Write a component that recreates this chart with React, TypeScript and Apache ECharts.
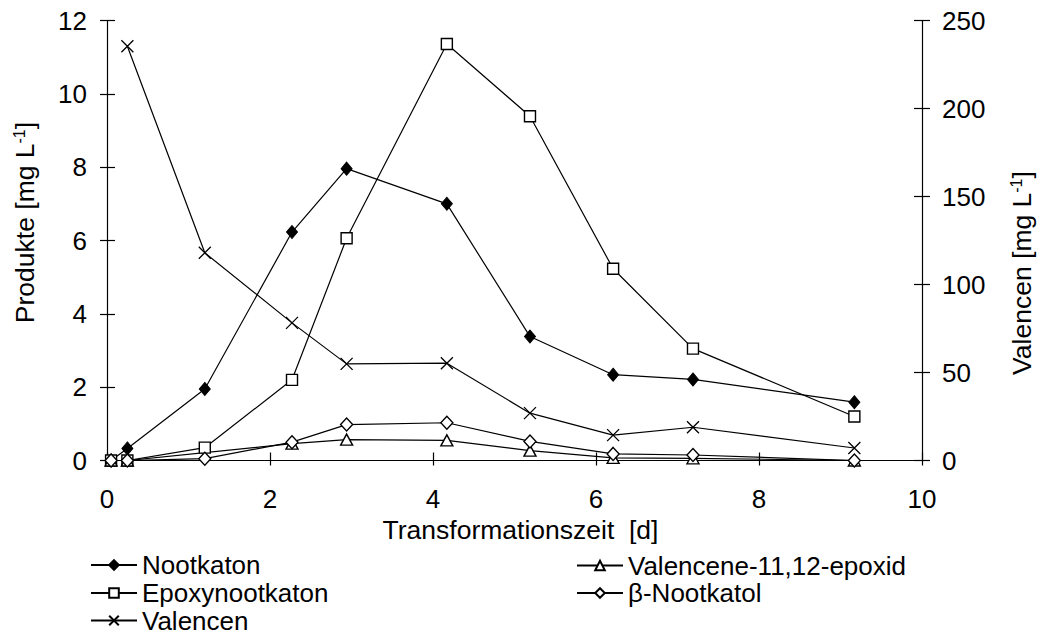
import React, { useEffect, useRef } from "react";
import * as echarts from "echarts";

const times = [0.05, 0.25, 1.2, 2.27, 2.94, 4.17, 5.19, 6.21, 7.19, 9.17];
const nootkaton = [0, 0.33, 1.95, 6.23, 7.96, 7.0, 3.38, 2.34, 2.21, 1.59];
const epoxynootkaton = [0, 0, 0.35, 2.2, 6.06, 11.36, 9.39, 5.23, 3.05, 1.2];
const valencen = [null, 235.4, 118, 78.2, 54.9, 55.3, 26.9, 14.4, 18.9, 7.1];
const valenceneEpoxid = [0, 0, null, 0.46, 0.57, 0.55, 0.27, 0.07, 0.06, 0];
const nootkatol = [0, 0, 0.05, 0.5, 0.98, 1.03, 0.52, 0.18, 0.15, 0];

const leftTicks = { min: 0, max: 12, interval: 2 };
const rightTicks = { min: 0, max: 250, interval: 50 };
const xTicks = { min: 0, max: 10, interval: 2 };

const FONT = "'Liberation Sans', Arial, sans-serif";

function pairs(vals: (number | null)[]) {
  return times.map((t, i) => [t, vals[i]]).filter((p) => p[1] !== null);
}

export default function App() {
  const ref = useRef<HTMLDivElement>(null);
  useEffect(() => {
    if (!ref.current) return;
    const chart = echarts.init(ref.current, null, { renderer: "svg" });
    const line = { color: "#000", width: 1.2 };
    const hollow = { color: "#fff", borderColor: "#000", borderWidth: 1.4 };
    const axisLine = { show: true, onZero: false, lineStyle: { color: "#000", width: 1.2 } };
    const lbl = { color: "#000", fontSize: 26, fontFamily: FONT };
    const nameStyle = { color: "#000", fontSize: 26.5, fontFamily: FONT };
    const legendText = { color: "#000", fontSize: 26, fontFamily: FONT, lineHeight: 20 };
    const legendItem = (name: string, left: number, center: number) => ({
      orient: "vertical",
      left,
      top: center - 13,
      padding: 0,
      itemWidth: 46,
      itemHeight: 12,
      textStyle: legendText,
      data: [name],
    });
    chart.setOption({
      animation: false,
      backgroundColor: "#fff",
      grid: { left: 107, right: 118, top: 20.5, bottom: 176.5, containLabel: false },
      xAxis: [
        {
          type: "value",
          position: "bottom",
          ...xTicks,
          axisLine,
          axisTick: { show: true, inside: false, length: 5, lineStyle: { color: "#000", width: 1.2 } },
          axisLabel: { ...lbl, margin: 25 },
          splitLine: { show: false },
          name: "Transformationszeit  [d]",
          nameLocation: "middle",
          nameGap: 56,
          nameTextStyle: { ...nameStyle, padding: [0, 0, 0, 12] },
        },
        {
          type: "value",
          position: "bottom",
          offset: 0,
          ...xTicks,
          axisLine: { show: false, onZero: false },
          axisTick: { show: true, inside: true, length: 8, lineStyle: { color: "#000", width: 1.2 } },
          axisLabel: { show: false },
          splitLine: { show: false },
        },
      ],
      yAxis: [
        {
          type: "value",
          position: "left",
          ...leftTicks,
          axisLine,
          axisTick: { show: true, inside: false, length: 7, lineStyle: { color: "#000", width: 1.2 } },
          axisLabel: { ...lbl, margin: 20 },
          splitLine: { show: false },
        },
        {
          type: "value",
          position: "right",
          ...rightTicks,
          axisLine,
          axisTick: { show: true, inside: false, length: 8, lineStyle: { color: "#000", width: 1.2 } },
          axisLabel: { ...lbl, margin: 20 },
          splitLine: { show: false },
        },
        {
          type: "value",
          position: "left",
          offset: 0,
          ...leftTicks,
          axisLine: { show: false, onZero: false },
          axisTick: { show: true, inside: true, length: 8, lineStyle: { color: "#000", width: 1.2 } },
          axisLabel: { show: false },
          splitLine: { show: false },
        },
        {
          type: "value",
          position: "right",
          offset: 0,
          ...rightTicks,
          axisLine: { show: false, onZero: false },
          axisTick: { show: true, inside: true, length: 8, lineStyle: { color: "#000", width: 1.2 } },
          axisLabel: { show: false },
          splitLine: { show: false },
        },
      ],
      legend: [
        legendItem("Nootkaton", 90, 565),
        legendItem("Epoxynootkaton", 90, 593),
        legendItem("Valencen", 90, 620.5),
        legendItem("Valencene-11,12-epoxid", 576, 565.5),
        legendItem("β-Nootkatol", 576, 593),
      ],
      graphic: [
        {
          type: "text",
          x: 24.5,
          y: 222.5,
          rotation: Math.PI / 2,
          style: {
            text: "Produkte [mg L{sup|-1}]",
            fontSize: 26.5,
            fontFamily: FONT,
            fill: "#000",
            align: "center",
            verticalAlign: "middle",
            rich: { sup: { fontSize: 16, fontFamily: FONT, fill: "#000", verticalAlign: "top" } },
          },
        },
        {
          type: "text",
          x: 1022,
          y: 273,
          rotation: Math.PI / 2,
          style: {
            text: "Valencen [mg L{sup|-1}]",
            fontSize: 26.5,
            fontFamily: FONT,
            fill: "#000",
            align: "center",
            verticalAlign: "middle",
            rich: { sup: { fontSize: 16, fontFamily: FONT, fill: "#000", verticalAlign: "top" } },
          },
        },
      ],
      series: [
        {
          name: "Nootkaton",
          type: "line",
          xAxisIndex: 0,
          yAxisIndex: 0,
          data: pairs(nootkaton),
          symbol: "diamond",
          symbolSize: [11, 13],
          lineStyle: line,
          itemStyle: { color: "#000", borderColor: "#000", borderWidth: 1 },
        },
        {
          name: "Epoxynootkaton",
          type: "line",
          xAxisIndex: 0,
          yAxisIndex: 0,
          data: pairs(epoxynootkaton),
          symbol: "rect",
          symbolSize: 11,
          lineStyle: line,
          itemStyle: hollow,
        },
        {
          name: "Valencen",
          type: "line",
          xAxisIndex: 0,
          yAxisIndex: 1,
          data: pairs(valencen),
          symbol: "path://M0,0L10,10M0,10L10,0",
          symbolSize: 12,
          lineStyle: line,
          itemStyle: { color: "none", borderColor: "#000", borderWidth: 1.3 },
        },
        {
          name: "Valencene-11,12-epoxid",
          type: "line",
          xAxisIndex: 0,
          yAxisIndex: 0,
          data: pairs(valenceneEpoxid),
          symbol: "triangle",
          symbolSize: [12, 11],
          lineStyle: line,
          itemStyle: hollow,
        },
        {
          name: "β-Nootkatol",
          type: "line",
          xAxisIndex: 0,
          yAxisIndex: 0,
          data: pairs(nootkatol),
          symbol: "diamond",
          symbolSize: [12, 13],
          lineStyle: line,
          itemStyle: hollow,
        },
      ],
    });
    return () => chart.dispose();
  }, []);
  return <div ref={ref} style={{ width: 1040, height: 637, position: "absolute", left: 0, top: 0 }} />;
}
